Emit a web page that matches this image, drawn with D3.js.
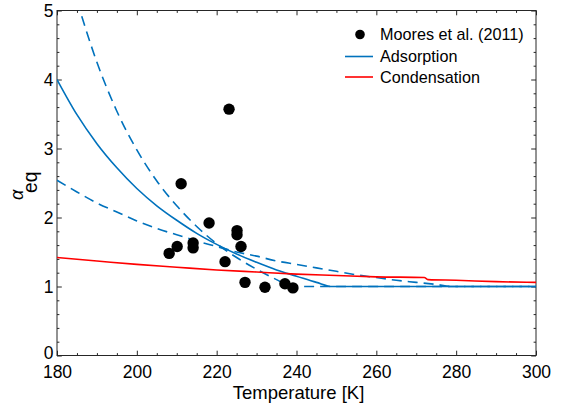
<!DOCTYPE html>
<html><head><meta charset="utf-8">
<script src="https://cdn.jsdelivr.net/npm/d3@7"></script>
<style>
body{margin:0;background:#fff}
svg{display:block}
text{font-family:"Liberation Sans",Arial,Helvetica,sans-serif;fill:#000}
</style>
</head><body>
<svg id="c" width="567" height="409"></svg>
<script>
// ---- data ----
const mooresT     = [208.1, 210.1, 211.1, 214.1, 214.1, 218.1, 222.1, 223.1, 225.1, 225.1, 226.1, 227.1, 232.1, 237.1, 239.1];
const mooresAlpha = [1.48, 1.58, 2.49, 1.63, 1.56, 1.92, 1.36, 3.57, 1.81, 1.75, 1.58, 1.06, 0.99, 1.04, 0.98];

const adsT     = [180, 185, 190, 195, 200, 205, 210, 215, 220, 225, 230, 235, 240, 245, 249, 300];
const adsAlpha = [4.00, 3.49, 3.07, 2.72, 2.42, 2.17, 1.96, 1.77, 1.61, 1.47, 1.35, 1.24, 1.15, 1.06, 1.00, 1.00];

const adsHighT     = [185, 190, 195, 200, 205, 210, 215, 220, 225, 230, 235, 239, 300];
const adsHighAlpha = [5.14, 4.25, 3.54, 2.98, 2.53, 2.17, 1.87, 1.62, 1.42, 1.25, 1.10, 1.00, 1.00];

const adsLowT     = [180, 185, 190, 195, 200, 205, 210, 215, 220, 225, 230, 235, 240, 245, 250, 255, 260, 265, 270, 275, 279, 300];
const adsLowAlpha = [2.54, 2.37, 2.21, 2.08, 1.95, 1.84, 1.75, 1.66, 1.58, 1.50, 1.44, 1.37, 1.32, 1.27, 1.22, 1.17, 1.13, 1.09, 1.06, 1.03, 1.00, 1.00];

const condT     = [180, 190, 200, 210, 220, 230, 240, 250, 260, 272, 273, 280, 290, 300];
const condAlpha = [1.42, 1.37, 1.32, 1.28, 1.24, 1.21, 1.18, 1.16, 1.14, 1.13, 1.10, 1.09, 1.07, 1.06];

const xTicks = [180, 200, 220, 240, 260, 280, 300];
const yTicks = [0, 1, 2, 3, 4, 5];
const legendLabels = ["Moores et al. (2011)", "Adsorption", "Condensation"];

// ---- layout ----
const L = 57, R = 536, T = 10.5, B = 355.5;
const blue = "#0072BD", red = "#FF0000", axisCol = "#262626";
const svg = d3.select("#c");
const x = d3.scaleLinear().domain([180, 300]).range([L, R]);
const y = d3.scaleLinear().domain([0, 5]).range([B, T]);

svg.append("defs").append("clipPath").attr("id", "clip")
  .append("rect").attr("x", L).attr("y", T).attr("width", R - L).attr("height", B - T);

const xMinor = d3.range(180, 301, 5).filter(v => v % 20 !== 0);
const yMinor = d3.range(0, 5.001, 0.2).map(v => +v.toFixed(1)).filter(v => Math.abs(v - Math.round(v)) > 1e-6);
const major = 4.8, minor = 2.4;

function styleAxis(g) {
  g.select(".domain").remove();
  g.selectAll("line").attr("stroke", axisCol).attr("stroke-width", 1);
}
// bottom
svg.append("g").attr("transform", `translate(0,${B})`)
  .call(d3.axisBottom(x).tickValues(xTicks).tickSize(-major).tickPadding(10).tickFormat(d3.format("d")))
  .call(styleAxis).call(g => g.selectAll("text").attr("font-size", 17.5).attr("font-family", "'Liberation Sans',Arial,sans-serif").attr("fill", "#000"));
svg.append("g").attr("transform", `translate(0,${B})`)
  .call(d3.axisBottom(x).tickValues(xMinor).tickSize(-minor).tickFormat("")).call(styleAxis);
// top
svg.append("g").attr("transform", `translate(0,${T})`)
  .call(d3.axisTop(x).tickValues(xTicks).tickSize(-major).tickFormat("")).call(styleAxis);
svg.append("g").attr("transform", `translate(0,${T})`)
  .call(d3.axisTop(x).tickValues(xMinor).tickSize(-minor).tickFormat("")).call(styleAxis);
// left
svg.append("g").attr("transform", `translate(${L},0)`)
  .call(d3.axisLeft(y).tickValues(yTicks).tickSize(-major).tickPadding(3.5).tickFormat(d3.format("d")))
  .call(styleAxis)
  .call(g => g.selectAll("text").attr("font-size", 17.5).attr("font-family", "'Liberation Sans',Arial,sans-serif").attr("fill", "#000")
    .attr("dy", d => d === 0 ? "0.15em" : "0.32em"));
svg.append("g").attr("transform", `translate(${L},0)`)
  .call(d3.axisLeft(y).tickValues(yMinor).tickSize(-minor).tickFormat("")).call(styleAxis);
// right
svg.append("g").attr("transform", `translate(${R},0)`)
  .call(d3.axisRight(y).tickValues(yTicks).tickSize(-major).tickFormat("")).call(styleAxis);
svg.append("g").attr("transform", `translate(${R},0)`)
  .call(d3.axisRight(y).tickValues(yMinor).tickSize(-minor).tickFormat("")).call(styleAxis);

// box
svg.append("rect").attr("x", L).attr("y", T).attr("width", R - L).attr("height", B - T)
  .attr("fill", "none").attr("stroke", axisCol).attr("stroke-width", 1);

// ---- curves ----
const line = d3.line().x(d => x(d[0])).y(d => y(d[1])).curve(d3.curveMonotoneX);
const plot = svg.append("g").attr("clip-path", "url(#clip)");
function addLine(ts, as, color, dash) {
  plot.append("path").datum(ts.map((t, i) => [t, as[i]]))
    .attr("d", line).attr("fill", "none").attr("stroke", color).attr("stroke-width", 1.6)
    .attr("stroke-dasharray", dash || null);
}
addLine(adsHighT, adsHighAlpha, blue, "10,6");
addLine(adsLowT, adsLowAlpha, blue, "10,6");
addLine(adsT, adsAlpha, blue);
addLine(condT, condAlpha, red);

// ---- scatter ----
plot.selectAll("circle.m").data(mooresT.map((t, i) => [t, mooresAlpha[i]]))
  .enter().append("circle").attr("class", "m")
  .attr("cx", d => x(d[0])).attr("cy", d => y(d[1])).attr("r", 5.7).attr("fill", "#000");

// ---- axis labels ----
svg.append("text").attr("x", (L + R) / 2 + 2).attr("y", 398.5).attr("text-anchor", "middle")
  .attr("font-size", 18.5).text("Temperature [K]");
svg.append("text").attr("transform", "translate(23,200) rotate(-90)")
  .attr("font-family", "'Liberation Serif','DejaVu Serif',serif").attr("font-style", "italic")
  .attr("font-size", 18).text("α");
svg.append("text").attr("transform", "translate(37,193) rotate(-90)")
  .attr("font-size", 19.3).text("eq");

// ---- legend ----
const lg = svg.append("g");
const rowsY = [34.5, 56.5, 77];
lg.append("circle").attr("cx", 360).attr("cy", rowsY[0]).attr("r", 4.8).attr("fill", "#000");
lg.append("line").attr("x1", 345).attr("x2", 373).attr("y1", rowsY[1]).attr("y2", rowsY[1])
  .attr("stroke", blue).attr("stroke-width", 1.6);
lg.append("line").attr("x1", 345).attr("x2", 373).attr("y1", rowsY[2]).attr("y2", rowsY[2])
  .attr("stroke", red).attr("stroke-width", 1.6);
legendLabels.forEach((s, i) => {
  lg.append("text").attr("x", 380).attr("y", rowsY[i]).attr("dy", "0.35em")
    .attr("font-size", 16.2).text(s);
});
</script>
</body></html>
